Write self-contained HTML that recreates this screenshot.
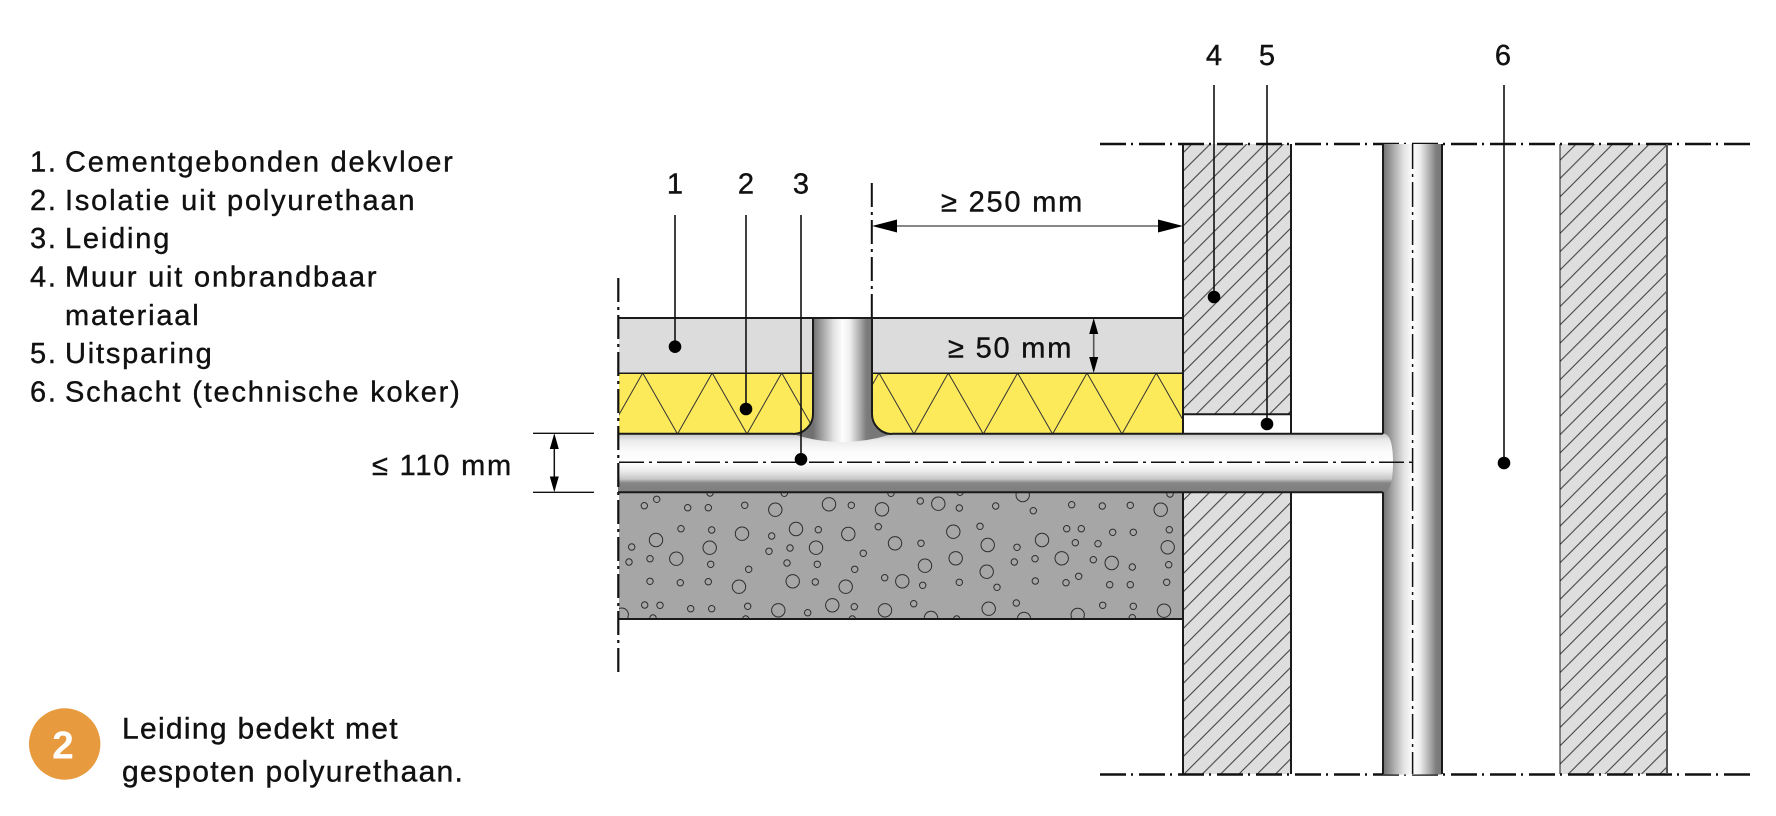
<!DOCTYPE html>
<html>
<head>
<meta charset="utf-8">
<style>
  html,body{margin:0;padding:0;background:#fff;}
  svg{display:block;}
  text{font-family:"Liberation Sans", Arial, sans-serif;fill:#111;stroke:#111;stroke-width:0.4px;}
  .t29{font-size:29px;letter-spacing:1.8px;}
  .t30{font-size:30px;letter-spacing:1.3px;}
</style>
</head>
<body>
<svg width="1776" height="816" viewBox="0 0 1776 816" xmlns="http://www.w3.org/2000/svg">
  <defs>
    <pattern id="hatch" patternUnits="userSpaceOnUse" width="18.3" height="18.3">
      <rect width="18.3" height="18.3" fill="#dedede"/>
      <path d="M0,18.3 L18.3,0 M-3,3 L3,-3 M15.3,21.3 L21.3,15.3" stroke="#3a3a3a" stroke-width="1"/>
    </pattern>
    <linearGradient id="hpipe" x1="0" y1="433.5" x2="0" y2="492" gradientUnits="userSpaceOnUse">
      <stop offset="0" stop-color="#c2c2c2"/>
      <stop offset="0.12" stop-color="#ebebeb"/>
      <stop offset="0.3" stop-color="#fbfbfb"/>
      <stop offset="0.5" stop-color="#ffffff"/>
      <stop offset="0.64" stop-color="#ececec"/>
      <stop offset="0.78" stop-color="#c6c6c6"/>
      <stop offset="0.82" stop-color="#9c9c9c"/>
      <stop offset="0.85" stop-color="#858585"/>
      <stop offset="1" stop-color="#7e7e7e"/>
    </linearGradient>
    <linearGradient id="vpipe" x1="1383" y1="0" x2="1442" y2="0" gradientUnits="userSpaceOnUse">
      <stop offset="0" stop-color="#707070"/>
      <stop offset="0.08" stop-color="#8a8a8a"/>
      <stop offset="0.35" stop-color="#e2e2e2"/>
      <stop offset="0.5" stop-color="#fdfdfd"/>
      <stop offset="0.62" stop-color="#f0f0f0"/>
      <stop offset="0.8" stop-color="#aaaaaa"/>
      <stop offset="0.9" stop-color="#7d7d7d"/>
      <stop offset="1" stop-color="#777777"/>
    </linearGradient>
    <linearGradient id="riser" x1="813" y1="0" x2="872" y2="0" gradientUnits="userSpaceOnUse">
      <stop offset="0" stop-color="#707070"/>
      <stop offset="0.08" stop-color="#8a8a8a"/>
      <stop offset="0.35" stop-color="#e2e2e2"/>
      <stop offset="0.5" stop-color="#fdfdfd"/>
      <stop offset="0.62" stop-color="#f0f0f0"/>
      <stop offset="0.8" stop-color="#aaaaaa"/>
      <stop offset="0.9" stop-color="#7d7d7d"/>
      <stop offset="1" stop-color="#777777"/>
    </linearGradient>
    <clipPath id="insL"><path d="M619,373 H813 V414 A20,20 0 0 1 793,434 H619 Z"/></clipPath>
    <clipPath id="insR"><path d="M872,373 H1183 V434 H892 A20,20 0 0 1 872,414 Z"/></clipPath>
    <clipPath id="conc"><rect x="619" y="492.5" width="564" height="126.5"/></clipPath>
  </defs>

  <!-- Legend list -->
  <g class="t29">
    <text x="30" y="171.7">1.</text><text x="65" y="171.7">Cementgebonden dekvloer</text>
    <text x="30" y="210">2.</text><text x="65" y="210">Isolatie uit polyurethaan</text>
    <text x="30" y="248">3.</text><text x="65" y="248">Leiding</text>
    <text x="30" y="286.7">4.</text><text x="65" y="286.7">Muur uit onbrandbaar</text>
    <text x="65" y="325">materiaal</text>
    <text x="30" y="363">5.</text><text x="65" y="363">Uitsparing</text>
    <text x="30" y="401.7">6.</text><text x="65" y="401.7">Schacht (technische koker)</text>
  </g>

  <!-- Badge -->
  <circle cx="64.7" cy="744" r="35.7" fill="#E89A3F"/>
  <text x="63" y="758.3" text-anchor="middle" style="font-size:39px;font-weight:bold;fill:#fff;stroke:none;">2</text>
  <g class="t30">
    <text x="122" y="738.3">Leiding bedekt met</text>
    <text x="122" y="781.7">gespoten polyurethaan.</text>
  </g>

  <!-- Screed -->
  <rect x="619" y="318" width="194" height="55" fill="#dcdcdc"/>
  <rect x="872" y="318" width="311" height="55" fill="#dcdcdc"/>

  <!-- Insulation -->
  <path d="M619,373 H813 V414 A20,20 0 0 1 793,434 H619 Z" fill="#FCEA5B"/>
  <path d="M872,373 H1183 V434 H892 A20,20 0 0 1 872,414 Z" fill="#FCEA5B"/>
  <polyline clip-path="url(#insL)" fill="none" stroke="#333" stroke-width="1"
    points="608,434 642.7,373 677.5,434 712.2,373 747,434 781.7,373 816.5,434"/>
  <polyline clip-path="url(#insR)" fill="none" stroke="#333" stroke-width="1"
    points="844.7,434 879,373 914,434 948.3,373 983.3,434 1017.6,373 1052.6,434 1087,373 1122,434 1156.3,373 1191,434"/>

  <!-- Concrete -->
  <rect x="619" y="492.5" width="564" height="126.5" fill="#a6a6a6"/>
  <g clip-path="url(#conc)" fill="none" stroke="#2e2e2e" stroke-width="1">
    <circle cx="644.3" cy="505.7" r="3.2"/><circle cx="656.7" cy="499.3" r="3.2"/><circle cx="687.7" cy="507.7" r="3.2"/>
    <circle cx="708.3" cy="507.7" r="3.2"/><circle cx="744.7" cy="505.3" r="3.2"/><circle cx="775.3" cy="509.7" r="6.7"/>
    <circle cx="829" cy="504.3" r="6.7"/><circle cx="851.3" cy="505.3" r="3.2"/><circle cx="882" cy="509.3" r="6.7"/>
    <circle cx="920.3" cy="501" r="3.2"/><circle cx="938.3" cy="503.7" r="6.7"/><circle cx="959.3" cy="508" r="3.2"/>
    <circle cx="995.7" cy="506" r="3.2"/><circle cx="1022.7" cy="495" r="6.7"/><circle cx="1033.3" cy="510.7" r="3.2"/>
    <circle cx="1071.7" cy="504.7" r="3.2"/><circle cx="1102.3" cy="506" r="3.2"/>
    <circle cx="656" cy="540" r="6.7"/><circle cx="681" cy="528.7" r="3.2"/><circle cx="711.7" cy="530" r="3.2"/>
    <circle cx="709.7" cy="547.7" r="6.7"/><circle cx="742" cy="533.7" r="6.7"/><circle cx="771.7" cy="536" r="3.2"/>
    <circle cx="796" cy="529" r="6.7"/><circle cx="818.3" cy="529.7" r="3.2"/><circle cx="816" cy="547.7" r="6.7"/>
    <circle cx="848.3" cy="534" r="6.7"/><circle cx="878.3" cy="526.7" r="3.2"/><circle cx="895" cy="543.3" r="6.7"/>
    <circle cx="921" cy="543.3" r="3.2"/><circle cx="953.3" cy="531.7" r="6.7"/><circle cx="980" cy="526.3" r="3.2"/>
    <circle cx="987.7" cy="545" r="6.7"/><circle cx="1017" cy="547.3" r="3.2"/><circle cx="1042" cy="540" r="6.7"/>
    <circle cx="1066.7" cy="528.7" r="3.2"/><circle cx="1081.3" cy="528.7" r="3.2"/><circle cx="1075.3" cy="542.7" r="3.2"/>
    <circle cx="1098" cy="543.7" r="3.2"/><circle cx="1112.7" cy="532.3" r="3.2"/>
    <circle cx="631.7" cy="547" r="3.2"/><circle cx="629" cy="562" r="3.2"/><circle cx="650" cy="558.7" r="3.2"/>
    <circle cx="676.3" cy="558.7" r="6.7"/><circle cx="769" cy="551.3" r="3.2"/><circle cx="790" cy="548" r="3.2"/>
    <circle cx="710.7" cy="564.3" r="3.2"/><circle cx="748.7" cy="569.3" r="3.2"/><circle cx="787" cy="563" r="3.2"/>
    <circle cx="817.3" cy="564.3" r="3.2"/><circle cx="854.7" cy="569.3" r="3.2"/><circle cx="863.3" cy="553.3" r="3.2"/>
    <circle cx="925" cy="565.7" r="6.7"/><circle cx="955.7" cy="558.3" r="6.7"/><circle cx="986.7" cy="571.7" r="6.7"/>
    <circle cx="1014.3" cy="562" r="3.2"/><circle cx="1035" cy="558.7" r="3.2"/><circle cx="1061.7" cy="558.3" r="6.7"/>
    <circle cx="1093.3" cy="559.7" r="3.2"/><circle cx="1111.7" cy="563" r="6.7"/>
    <circle cx="650" cy="581.3" r="3.2"/><circle cx="680.3" cy="582.7" r="3.2"/><circle cx="708.3" cy="581.7" r="3.2"/>
    <circle cx="739" cy="586.7" r="6.7"/><circle cx="792.7" cy="581.3" r="6.7"/><circle cx="815.3" cy="582" r="3.2"/>
    <circle cx="845.7" cy="586.7" r="6.7"/><circle cx="884.7" cy="577.7" r="3.2"/><circle cx="902.3" cy="581.3" r="6.7"/>
    <circle cx="922.7" cy="585.3" r="3.2"/><circle cx="959.3" cy="582.3" r="3.2"/><circle cx="997" cy="587.3" r="3.2"/>
    <circle cx="1035.3" cy="581" r="3.2"/><circle cx="1066" cy="582.7" r="3.2"/><circle cx="1078.7" cy="576.3" r="3.2"/>
    <circle cx="644.7" cy="605" r="3.2"/><circle cx="660" cy="605.3" r="3.2"/><circle cx="690.7" cy="608.7" r="3.2"/>
    <circle cx="711.7" cy="608.7" r="3.2"/><circle cx="747.7" cy="606.3" r="3.2"/><circle cx="778.3" cy="610.3" r="6.7"/>
    <circle cx="807.7" cy="612.7" r="3.2"/><circle cx="832.3" cy="605.3" r="6.7"/><circle cx="854.3" cy="606.7" r="3.2"/>
    <circle cx="885" cy="610.3" r="6.7"/><circle cx="913.7" cy="603.7" r="3.2"/><circle cx="931" cy="618" r="6.7"/>
    <circle cx="988.7" cy="608.7" r="6.7"/><circle cx="1016.3" cy="603" r="3.2"/><circle cx="1024" cy="619" r="6.7"/>
    <circle cx="1077.7" cy="615" r="6.7"/><circle cx="1102.7" cy="605.3" r="3.2"/><circle cx="621.7" cy="614.7" r="6.7"/>
    <circle cx="653" cy="618" r="3.2"/><circle cx="745.7" cy="619" r="3.2"/><circle cx="852.3" cy="619" r="3.2"/>
    <circle cx="956.7" cy="619" r="3.2"/><circle cx="710" cy="493" r="3.2"/><circle cx="784.3" cy="493.3" r="3.2"/>
    <circle cx="891" cy="493.3" r="3.2"/><circle cx="960" cy="492.3" r="3.2"/>
    <circle cx="1130.3" cy="505.3" r="3.2"/><circle cx="1160.7" cy="509.7" r="6.7"/><circle cx="1170" cy="494" r="3.2"/>
    <circle cx="1133.3" cy="532.3" r="3.2"/><circle cx="1169.3" cy="529.7" r="3.2"/><circle cx="1167.7" cy="547.3" r="6.7"/>
    <circle cx="1132.3" cy="567" r="3.2"/><circle cx="1168.7" cy="564.7" r="3.2"/><circle cx="1109.7" cy="584.7" r="3.2"/>
    <circle cx="1130.3" cy="584.7" r="3.2"/><circle cx="1166.7" cy="582.3" r="3.2"/><circle cx="1133.3" cy="606.3" r="3.2"/>
    <circle cx="1164" cy="610.7" r="6.7"/><circle cx="1132.3" cy="617.7" r="3.2"/>
  </g>

  <!-- Wall 4 -->
  <rect x="1183" y="144" width="108" height="270" fill="url(#hatch)"/>
  <rect x="1183" y="492" width="108" height="282" fill="url(#hatch)"/>
  <!-- Uitsparing -->
  <rect x="1183" y="414" width="108" height="19.5" fill="#fff"/>

  <!-- Wall 6 -->
  <rect x="1560" y="144" width="107" height="630" fill="url(#hatch)"/>

  <!-- Top/bottom dash-dot -->
  <g stroke="#111" stroke-width="2.5" fill="none" stroke-dasharray="26 5 2 6">
    <line x1="1100" y1="144" x2="1752" y2="144"/>
    <line x1="1100" y1="774.5" x2="1752" y2="774.5"/>
  </g>

  <!-- Vertical shaft pipe -->
  <rect x="1383" y="144" width="59" height="630.5" fill="url(#vpipe)"/>

  <!-- Horizontal pipe -->
  <path d="M618,433.5 H1383 Q1393,433.5 1393,462.5 Q1393,492 1383,492 H618 Z" fill="url(#hpipe)"/>

  <!-- Riser -->
  <path d="M813,318 H872 V414 A20,20 0 0 0 892,434 Q842,450 793,434 A20,20 0 0 0 813,414 Z" fill="url(#riser)"/>

  <!-- Outlines -->
  <g stroke="#1a1a1a" fill="none">
    <line x1="618" y1="318" x2="1183" y2="318" stroke-width="2"/>
    <line x1="618" y1="373.3" x2="813" y2="373.3" stroke-width="1.5"/>
    <line x1="872" y1="373.3" x2="1183" y2="373.3" stroke-width="1.5"/>
    <path d="M813,318 V414 A20,20 0 0 1 793,434" stroke-width="2"/>
    <path d="M872,318 V414 A20,20 0 0 0 892,434" stroke-width="2"/>
    <line x1="618" y1="433.7" x2="793" y2="433.7" stroke-width="2"/>
    <line x1="892" y1="433.7" x2="1383" y2="433.7" stroke-width="2"/>
    <line x1="618" y1="492.3" x2="1383" y2="492.3" stroke-width="2"/>
    <line x1="618" y1="619" x2="1183" y2="619" stroke-width="2"/>
    <line x1="1183" y1="144" x2="1183" y2="433.7" stroke-width="2"/>
    <line x1="1183" y1="492.3" x2="1183" y2="774" stroke-width="2"/>
    <line x1="1291" y1="144" x2="1291" y2="433.7" stroke-width="2"/>
    <line x1="1291" y1="492.3" x2="1291" y2="774" stroke-width="2"/>
    <line x1="1183" y1="414.3" x2="1291" y2="414.3" stroke-width="2"/>
    <line x1="1383" y1="144" x2="1383" y2="433.7" stroke-width="2"/>
    <line x1="1383" y1="492.3" x2="1383" y2="774" stroke-width="2"/>
    <line x1="1442" y1="144" x2="1442" y2="774" stroke-width="2"/>
    <line x1="1560" y1="144" x2="1560" y2="774" stroke-width="1"/>
    <line x1="1667" y1="144" x2="1667" y2="774" stroke-width="2" stroke="#555"/>
  </g>

  <!-- Centre lines -->
  <g stroke="#111" fill="none">
    <line x1="618.3" y1="278" x2="618.3" y2="673" stroke-width="2.2" stroke-dasharray="24 5 3 5"/>
    <line x1="871.8" y1="183" x2="871.8" y2="318" stroke-width="2" stroke-dasharray="24 5 3 5"/>
    <line x1="619" y1="462.3" x2="1413" y2="462.3" stroke-width="1.5" stroke-dasharray="25 5 3 5"/>
    <line x1="1412.6" y1="144" x2="1412.6" y2="774" stroke-width="1.5" stroke-dasharray="25 5 3 5"/>
  </g>

  <!-- Leaders -->
  <g stroke="#111" stroke-width="1.6">
    <line x1="675" y1="215" x2="675" y2="346.7"/>
    <line x1="746" y1="215" x2="746" y2="409"/>
    <line x1="801" y1="215" x2="801" y2="459.3"/>
    <line x1="1214" y1="85" x2="1214" y2="297"/>
    <line x1="1267" y1="85" x2="1267" y2="424"/>
    <line x1="1504" y1="85" x2="1504" y2="463"/>
  </g>
  <g fill="#000">
    <circle cx="675" cy="346.7" r="6.3"/>
    <circle cx="746" cy="409" r="6.3"/>
    <circle cx="801" cy="459.3" r="6.3"/>
    <circle cx="1214" cy="297" r="6.3"/>
    <circle cx="1267" cy="424" r="6.3"/>
    <circle cx="1504" cy="463" r="6.3"/>
  </g>

  <!-- Label numbers -->
  <g class="t29" text-anchor="middle" style="letter-spacing:0">
    <text x="675" y="193.3">1</text>
    <text x="746" y="193.3">2</text>
    <text x="801" y="193.3">3</text>
    <text x="1214" y="65">4</text>
    <text x="1267" y="65">5</text>
    <text x="1503" y="65">6</text>
  </g>

  <!-- Dimension 250 -->
  <line x1="890" y1="226" x2="1165" y2="226" stroke="#777" stroke-width="1.8"/>
  <path d="M872,226 L897,219.5 L897,232.5 Z" fill="#000"/>
  <path d="M1183,226 L1158,219.5 L1158,232.5 Z" fill="#000"/>
  <text class="t29" x="941" y="211.7">≥ 250 mm</text>

  <!-- Dimension 50 -->
  <line x1="1093.7" y1="330" x2="1093.7" y2="361" stroke="#555" stroke-width="1.6"/>
  <path d="M1093.7,318 L1089.2,334 L1098.2,334 Z" fill="#000"/>
  <path d="M1093.7,373 L1089.2,357 L1098.2,357 Z" fill="#000"/>
  <text class="t29" x="948" y="357.7">≥ 50 mm</text>

  <!-- Dimension 110 -->
  <line x1="533" y1="433.3" x2="594" y2="433.3" stroke="#111" stroke-width="1.3"/>
  <line x1="533" y1="492.3" x2="594" y2="492.3" stroke="#111" stroke-width="1.3"/>
  <line x1="554.3" y1="445" x2="554.3" y2="481" stroke="#111" stroke-width="1.5"/>
  <path d="M554.3,433.3 L549.8,449 L558.8,449 Z" fill="#000"/>
  <path d="M554.3,492.3 L549.8,476.5 L558.8,476.5 Z" fill="#000"/>
  <text class="t29" x="372" y="475">≤ 110 mm</text>
</svg>
</body>
</html>
